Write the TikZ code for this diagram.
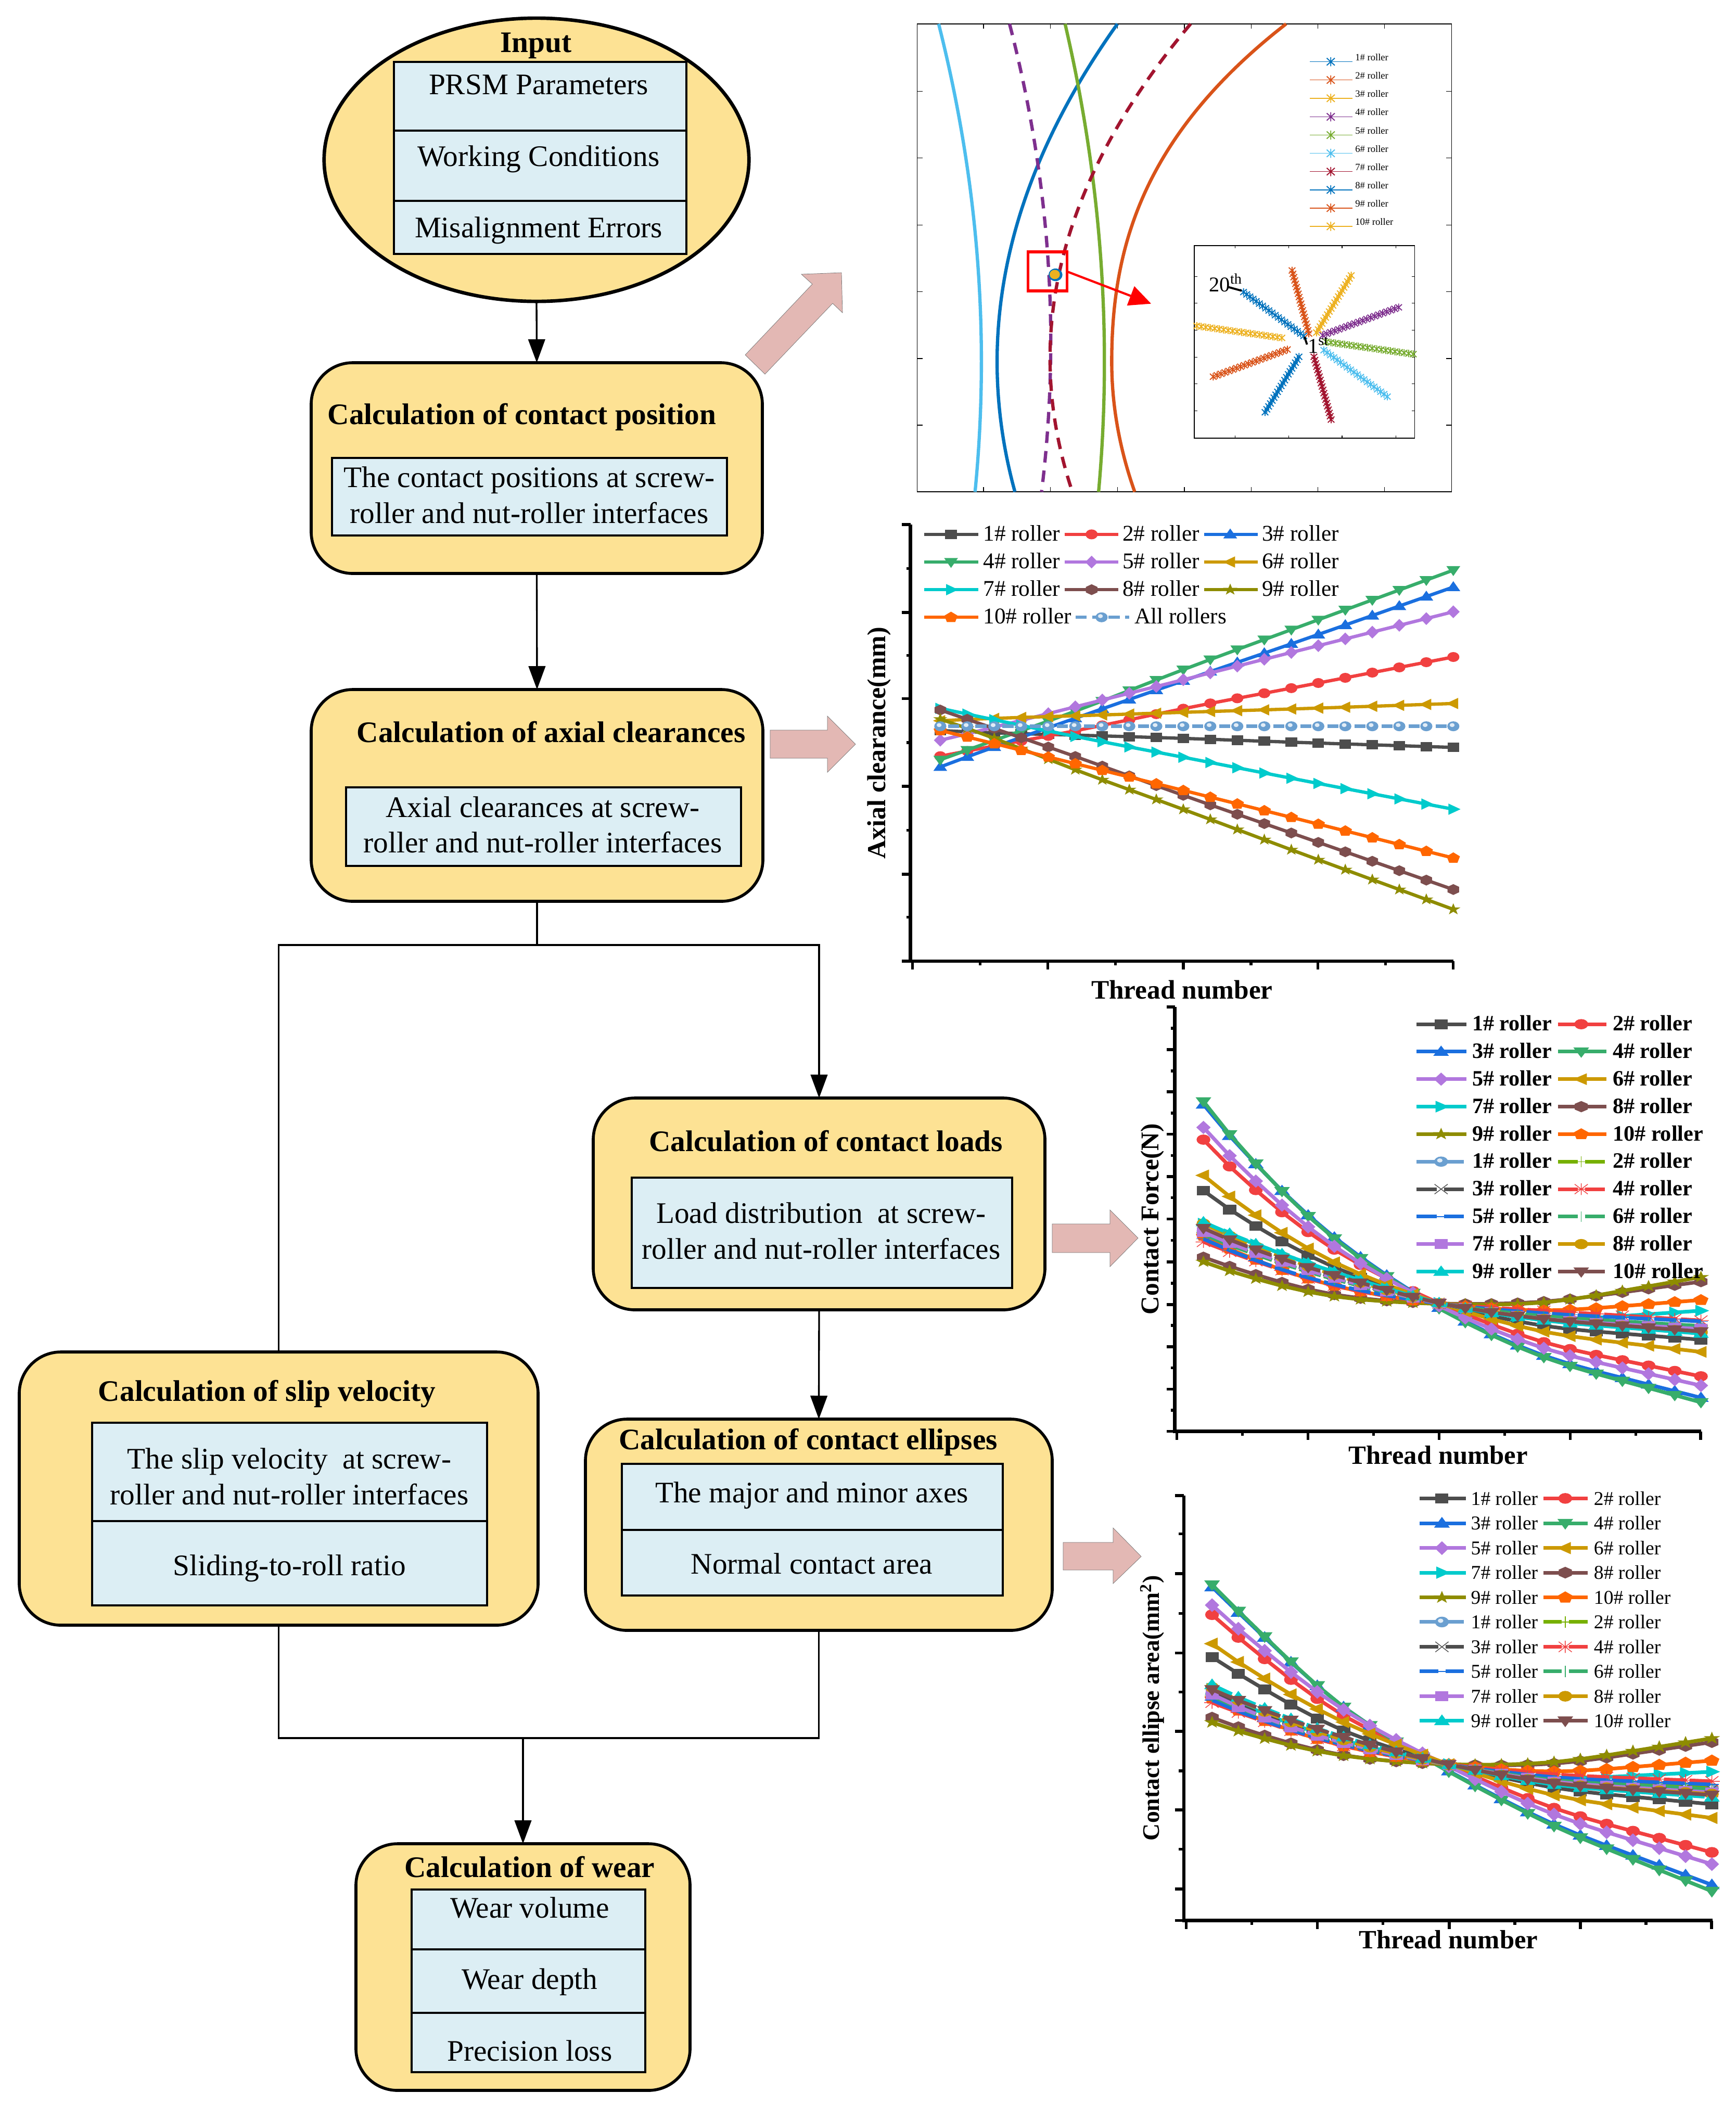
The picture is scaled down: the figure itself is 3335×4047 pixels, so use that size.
\documentclass[tikz,border=0pt]{standalone}
\usepackage{fontspec}
\setmainfont{Liberation Serif}
\usetikzlibrary{arrows.meta,shapes.geometric,calc}
\definecolor{boxfill}{HTML}{FDE294}
\definecolor{cellfill}{HTML}{DCEEF4}
\definecolor{pinkarrow}{HTML}{E3B8B4}
\definecolor{mBlue}{HTML}{0072BD}
\definecolor{mOrange}{HTML}{D95319}
\definecolor{mYellow}{HTML}{EDB120}
\definecolor{mPurple}{HTML}{7E2F8E}
\definecolor{mGreen}{HTML}{77AC30}
\definecolor{mSky}{HTML}{4DBEEE}
\definecolor{mCrimson}{HTML}{A2142F}
\definecolor{oGray}{HTML}{4D4D4D}
\definecolor{oRed}{HTML}{F14040}
\definecolor{oBlue}{HTML}{1A6FDF}
\definecolor{oGreen}{HTML}{37AD6B}
\definecolor{oPurple}{HTML}{B177DE}
\definecolor{oGold}{HTML}{CC9900}
\definecolor{oCyan}{HTML}{00CBCC}
\definecolor{oBrown}{HTML}{7D4E4E}
\definecolor{oOlive}{HTML}{8E8C00}
\definecolor{oOrange}{HTML}{FF6600}
\definecolor{oBall}{HTML}{6A9FD0}
\definecolor{oLime}{HTML}{76B000}
\newcommand\fsA{\fontsize{16.3}{18}\selectfont}
\newcommand\fsT{\fontsize{16.3}{18}\bfseries\selectfont}
\newcount\rkid
\newcommand\rkstep{\global\advance\rkid by 1 }
% box helper
\newcommand\rkbox[6]{%
  \pgfmathsetmacro\rkw{(#5-#3)*0.01}\pgfmathsetmacro\rkh{(#6-#4)*0.01}%
  \pgfmathsetmacro\rkcx{(#5+#3)/2}\pgfmathsetmacro\rkcy{(#6+#4)/2}%
  \node[#2,minimum width=\rkw cm,minimum height=\rkh cm] (#1) at (\rkcx,\rkcy) {};}
% markers (unit size)
\def\mksq{\fill[sc] (-1,-1) rectangle (1,1);}
\def\mkcir{\fill[sc] (0,0) circle[radius=1.05];}
\def\mkup{\fill[sc] (0,-1.25)--(1.2,.85)--(-1.2,.85)--cycle;}
\def\mkdown{\fill[sc] (0,1.25)--(1.2,-.85)--(-1.2,-.85)--cycle;}
\def\mkleft{\fill[sc] (-1.25,0)--(.85,-1.2)--(.85,1.2)--cycle;}
\def\mkright{\fill[sc] (1.25,0)--(-.85,-1.2)--(-.85,1.2)--cycle;}
\def\mkdia{\fill[sc] (0,-1.35)--(1.1,0)--(0,1.35)--(-1.1,0)--cycle;}
\def\mkhex{\fill[sc] (0,-1.15)--(1,-.58)--(1,.58)--(0,1.15)--(-1,.58)--(-1,-.58)--cycle;}
\def\mkpent{\fill[sc] (0,-1.2)--(1.15,-.35)--(.72,1)--(-.72,1)--(-1.15,-.35)--cycle;}
\def\mkstar{\fill[sc] (0,-1.3)--(.3,-.4)--(1.24,-.4)--(.48,.15)--(.76,1.05)--(0,.5)--(-.76,1.05)--(-.48,.15)--(-1.24,-.4)--(-.3,-.4)--cycle;}
\def\mkball{\fill[sc] (0,0) circle[radius=1.05];\fill[white!80!sc] (-.2,-.25) circle[radius=.42];}
\def\mkplus{\draw[sc,line width=.4pt] (-1.1,0)--(1.1,0) (0,-1.1)--(0,1.1);}
\def\mkcross{\draw[oGray,line width=.4pt] (-1,-1)--(1,1) (-1,1)--(1,-1);}
\def\mkast{\draw[sc,line width=.4pt] (-1,-1)--(1,1) (-1,1)--(1,-1) (-1.2,0)--(1.2,0) (0,-1.2)--(0,1.2);}
\def\mkdash{\draw[sc,line width=.4pt] (-1.1,0)--(1.1,0);}
\def\mkbar{\draw[sc,line width=.4pt] (0,-1.1)--(0,1.1);}
\def\rkmark#1#2{\begin{scope}[shift={(#1,#2)},scale=\mr]\csname mk\rkmk\endcsname\end{scope}}
% series: values at threads 1,3,6,10,14,20, interpolated and smoothed
\def\rkknots#1,#2,#3,#4,#5,#6\relax{\def\va{#1}\def\vb{#2}\def\vc{#3}\def\vd{#4}\def\ve{#5}\def\vf{#6}}
\newcommand\rklin[2]{%
  \ifnum#1<4 \pgfmathsetmacro#2{\va+(\vb-\va)*(#1-1)/2}\else
  \ifnum#1<7 \pgfmathsetmacro#2{\vb+(\vc-\vb)*(#1-3)/3}\else
  \ifnum#1<11 \pgfmathsetmacro#2{\vc+(\vd-\vc)*(#1-6)/4}\else
  \ifnum#1<15 \pgfmathsetmacro#2{\vd+(\ve-\vd)*(#1-10)/4}\else
  \pgfmathsetmacro#2{\ve+(\vf-\ve)*(#1-14)/6}\fi\fi\fi\fi}
\newcommand\rkyat[1]{%
  \ifnum#1=1 \rklin{1}{\yv}\else\ifnum#1=20 \rklin{20}{\yv}\else
    \edef\kA{\the\numexpr#1-1\relax}\edef\kB{\the\numexpr#1+1\relax}%
    \rklin{\kA}{\yA}\rklin{#1}{\yB}\rklin{\kB}{\yC}%
    \ifnum#1=2 \pgfmathsetmacro\yv{(\yA+2*\yB+\yC)/4}\else
    \ifnum#1=19 \pgfmathsetmacro\yv{(\yA+2*\yB+\yC)/4}\else
      \edef\kZ{\the\numexpr#1-2\relax}\edef\kD{\the\numexpr#1+2\relax}%
      \rklin{\kZ}{\yZ}\rklin{\kD}{\yD}%
      \pgfmathsetmacro\yv{(\yZ+2*\yA+3*\yB+2*\yC+\yD)/9}%
    \fi\fi
  \fi\fi}
\newcommand\rkseries[4]{%
  \colorlet{sc}{#1}\def\rkmk{#2}\rkknots#4\relax
  \gdef\rkpath{}%
  \foreach \k in {1,...,20}{%
    \rkyat{\k}\pgfmathsetmacro\xv{\chx+(\k-1)*\chd}%
    \ifnum\k=1 \xdef\rkpath{(\xv,\yv)}\else \xdef\rkpath{\rkpath -- (\xv,\yv)}\fi}%
  \edef\rktmp{\noexpand\draw[sc,line width=\chlw,line join=round,#3] \rkpath;}\rktmp
  \foreach \k in {1,...,20}{%
    \rkyat{\k}\pgfmathsetmacro\xv{\chx+(\k-1)*\chd}%
    \rkmark{\xv}{\yv}}}
\newcommand\rkleg[9]{%
  \colorlet{sc}{#1}\def\rkmk{#2}%
  \draw[sc,line width=\chlw,#3] (#4,#7)--(#5,#7);
  \rkmark{#6}{#7}%
  \rkstep
  \node[anchor=west,inner sep=0pt,text height=.92em,text depth=.2em] (n\the\rkid) at (#8,#7) {\rklf #9};}
% asterisk for matlab plot
\def\mkmat{\draw[sc,line width=.55pt] (-1,-1)--(1,1) (-1,1)--(1,-1) (0,-1.25)--(0,1.25);}
\newcommand\rkray[5]{%
  \colorlet{sc}{#1}%
  \foreach \t in {0,...,19}{%
    \pgfmathsetmacro\xv{#2+(#4-#2)*\t/19}\pgfmathsetmacro\yv{#3+(#5-#3)*\t/19}%
    \begin{scope}[shift={(\xv,\yv)},scale=9]\mkmat\end{scope}}}
\tikzset{
  bigbox/.style={draw=black,line width=1.6pt,fill=boxfill,rounded corners=0.8cm,inner sep=0pt,outer sep=0pt},
  cellbox/.style={draw=black,line width=1.35pt,fill=cellfill,inner sep=0pt,outer sep=0pt},
  txt/.style={inner sep=0pt,text height=1.14em,text depth=.2em,align=center},
  conn/.style={draw=black,line width=.95pt},
  arr/.style={conn,-{Triangle[length=12.8pt,width=9.2pt]}},
  pinkbig/.style={fill=pinkarrow,draw=black!55,line width=.2pt},
  axisln/.style={line width=1.8pt,black},
  ticklt/.style={line width=1.6pt,black},
  gdsh/.style={dash pattern=on 12pt off 2pt},
  glegA/.style={dash pattern=on 11pt off 4pt},
  glegB/.style={dash pattern=on 10pt off 4pt},
  curve/.style={line width=1.8pt},
  dcurve/.style={line width=1.8pt,dash pattern=on 6.3pt off 4.4pt},
}
\begin{document}
\begin{tikzpicture}[x=0.01cm,y=-0.01cm]
\useasboundingbox (0,0) rectangle (3335,4047);
\fill[white] (0,0) rectangle (3335,4047);

%%% FLOW CHART
\node[ellipse,draw=black,line width=1.9pt,fill=boxfill,minimum width=8.16cm,minimum height=5.44cm,inner sep=0pt,outer sep=0pt] (input) at (1031,307) {};
\rkbox{inA}{cellbox}{757}{119}{1319}{251}
\rkbox{inB}{cellbox}{757}{251}{1319}{386}
\rkbox{inC}{cellbox}{757}{386}{1319}{488}
\node[txt,font=\fsT] (inT) at (1030,84) {Input};
\node[txt,font=\fsA] (inAt) at (1035,165) {PRSM Parameters};
\node[txt,font=\fsA] (inBt) at (1035,303) {Working Conditions};
\node[txt,font=\fsA] (inCt) at (1035,440) {Misalignment Errors};

\rkbox{pos}{bigbox}{598}{697}{1465}{1102}
\rkbox{posC}{cellbox}{638}{880}{1397}{1029}
\node[txt,font=\fsT] (posT) at (1003,799) {Calculation of contact position};
\node[txt,font=\fsA] (posA) at (1017,920) {The contact positions at screw-};
\node[txt,font=\fsA] (posB) at (1017,989) {roller and nut-roller interfaces};

\rkbox{cle}{bigbox}{598}{1325}{1466}{1732}
\rkbox{cleC}{cellbox}{665}{1513}{1424}{1664}
\node[txt,font=\fsT] (cleT) at (1059,1410) {Calculation of axial clearances};
\node[txt,font=\fsA] (cleA) at (1043,1554) {Axial clearances at screw-};
\node[txt,font=\fsA] (cleB) at (1043,1622) {roller and nut-roller interfaces};

\rkbox{load}{bigbox}{1140}{2110}{2008}{2517}
\rkbox{loadC}{cellbox}{1214}{2263}{1945}{2475}
\node[txt,font=\fsT] (loadT) at (1587,2196) {Calculation of contact loads};
\node[txt,font=\fsA] (loadA) at (1578,2334) {Load distribution\ \ at screw-};
\node[txt,font=\fsA] (loadB) at (1578,2403) {roller and nut-roller interfaces};

\rkbox{slip}{bigbox}{37}{2598}{1034}{3123}
\rkbox{slipA}{cellbox}{177}{2734}{936}{2923}
\rkbox{slipB}{cellbox}{177}{2923}{936}{3085}
\node[txt,font=\fsT] (slipT) at (513,2676) {Calculation of slip velocity};
\node[txt,font=\fsA] (slipAa) at (556,2806) {The slip velocity\ \ at screw-};
\node[txt,font=\fsA] (slipAb) at (556,2875) {roller and nut-roller interfaces};
\node[txt,font=\fsA] (slipBa) at (556,3011) {Sliding-to-roll ratio};

\rkbox{ell}{bigbox}{1125}{2727}{2022}{3133}
\rkbox{ellA}{cellbox}{1195}{2813}{1927}{2940}
\rkbox{ellB}{cellbox}{1195}{2940}{1927}{3066}
\node[txt,font=\fsT] (ellT) at (1553,2769) {Calculation of contact ellipses};
\node[txt,font=\fsA] (ellAa) at (1560,2871) {The major and minor axes};
\node[txt,font=\fsA] (ellBa) at (1560,3008) {Normal contact area};

\rkbox{wear}{bigbox}{684}{3543}{1326}{4017}
\rkbox{wearA}{cellbox}{791}{3631}{1240}{3746}
\rkbox{wearB}{cellbox}{791}{3746}{1240}{3868}
\rkbox{wearC}{cellbox}{791}{3868}{1240}{3982}
\node[txt,font=\fsT] (wearT) at (1018,3591) {Calculation of wear};
\node[txt,font=\fsA] (wearAa) at (1018,3669) {Wear volume};
\node[txt,font=\fsA] (wearBa) at (1018,3806) {Wear depth};
\node[txt,font=\fsA] (wearCa) at (1018,3944) {Precision loss};

% connectors
\draw[arr] (input.south) -- (pos.north);
\draw[arr] (pos.south) -- (cle.north);
\coordinate (split) at (cle.south |- 0,1816);
\draw[conn] (cle.south) -- (split);
\draw[conn] (slip.north) |- (split);
\draw[arr] (split) -| (load.north);
\draw[arr] (load.south) -- (ell.north);
\coordinate (merge) at (wear.north |- 0,3340);
\draw[conn] (slip.south) |- (merge);
\draw[conn] (ell.south) |- (merge);
\draw[arr] (merge) -- (wear.north);

% pink arrows
\path[pinkbig] (1432,682)--(1470,719)--(1600,583)--(1619,601)--(1617,524)--(1540,527)--(1561,546)--cycle;
\path[pinkbig] (1480,1403)--(1590,1403)--(1590,1376)--(1644,1430)--(1590,1484)--(1590,1457)--(1480,1457)--cycle;
\path[pinkbig] (2022,2352)--(2133,2352)--(2133,2325)--(2187,2379)--(2133,2434)--(2133,2407)--(2022,2407)--cycle;
\path[pinkbig] (2043,2964)--(2139,2964)--(2139,2936)--(2193,2991)--(2139,3043)--(2139,3017)--(2043,3017)--cycle;

%%% TOP RIGHT PLOT
\begin{scope}[shift={(1700,0)},xscale=0.7015,yscale=0.6378]
\draw[line width=.45pt,black] (89,72) rectangle (1553,1482);
\foreach \v in {271,454,638,821,1004,1187,1369}{\draw[line width=.4pt] (\v,72)--(\v,86) (\v,1482)--(\v,1468);}
\foreach \v in {275,476,678,879,1080,1281}{\draw[line width=.4pt] (89,\v)--(104,\v) (1553,\v)--(1538,\v);}
\draw[mSky,curve] plot[domain=72:1482,samples=50,smooth] ({265-113*((\x-1090)/1000)*((\x-1090)/1000)},\x);
\draw[mBlue,curve] plot[domain=72:1482,samples=50,smooth] ({308+318*((\x-1090)/1000)*((\x-1090)/1000)},\x);
\draw[mPurple,dcurve] plot[domain=72:1482,samples=50,smooth] ({455-123*((\x-1030)/1000)*((\x-1030)/1000)},\x);
\draw[mGreen,curve] plot[domain=72:1482,samples=50,smooth] ({602-104*((\x-1090)/1000)*((\x-1090)/1000)},\x);
\draw[mCrimson,dcurve] plot[domain=72:1482,samples=50,smooth] ({453+379*((\x-1080)/1000)*((\x-1080)/1000)},\x);
\draw[mOrange,curve] plot[domain=72:1482,samples=50,smooth] ({622+(\x<1090)*(238+219*((1090-\x)/1000))*((\x-1090)/1000)*((\x-1090)/1000)+(\x>=1090)*410*((\x-1090)/1000)*((\x-1090)/1000)},\x);
% blob
\fill[mBlue] (468,828) circle[radius=19];
\fill[mYellow] (466,827) circle[radius=14];
% red window and arrow
\node[draw=red,line width=1.6pt,minimum width=.75cm,minimum height=.75cm,inner sep=0pt,outer sep=0pt] (redbox) at (446,818) {};
\coordinate (redtip) at (730,915);
\draw[red,line width=1.2pt,-{Triangle[length=12pt,width=11pt]}] (redbox.east) -- (redtip);
% legend
\def\rkmatleg#1#2#3{%
  \colorlet{sc}{#1}%
  \draw[sc,line width=.4pt] (1165,#2)--(1281,#2);
  \begin{scope}[shift={(1222,#2)},scale=11]\mkmat\end{scope}
  \pgfmathsetmacro\yt{#2-14}%
  \rkstep
  \node[anchor=west,inner sep=0pt,font=\fontsize{5.3}{6}\selectfont] (n\the\rkid) at (1288,\yt) {#3};}
\rkmatleg{mBlue}{186}{1\# roller}
\rkmatleg{mOrange}{241}{2\# roller}
\rkmatleg{mYellow}{296}{3\# roller}
\rkmatleg{mPurple}{352}{4\# roller}
\rkmatleg{mGreen}{407}{5\# roller}
\rkmatleg{mSky}{462}{6\# roller}
\rkmatleg{mCrimson}{517}{7\# roller}
\rkmatleg{mBlue}{572}{8\# roller}
\rkmatleg{mOrange}{627}{9\# roller}
\rkmatleg{mYellow}{682}{10\# roller}
% inset
\draw[line width=.4pt,black,fill=white] (848,740) rectangle (1452,1320);
\foreach \v in {960,1107,1253,1400}{\draw[line width=.3pt] (\v,740)--(\v,748) (\v,1320)--(\v,1312);}
\foreach \v in {834,914,995,1076,1156,1238}{\draw[line width=.3pt] (848,\v)--(856,\v) (1452,\v)--(1444,\v);}
\rkray{mBlue}{1148}{1012}{983}{880}
\rkray{mOrange}{1162}{1005}{1116}{815}
\rkray{mYellow}{1183}{1002}{1278}{830}
\rkray{mPurple}{1200}{1010}{1408}{926}
\rkray{mGreen}{1210}{1030}{1448}{1067}
\rkray{mSky}{1203}{1055}{1377}{1195}
\rkray{mCrimson}{1176}{1075}{1223}{1264}
\rkray{mBlue}{1135}{1075}{1042}{1242}
\rkray{mOrange}{1103}{1053}{900}{1135}
\rkray{mYellow}{1088}{1018}{855}{982}
\draw[black,line width=1.1pt] (942,865)--(978,876) (1150,1015)--(1157,1038);
\node[anchor=west,inner sep=0pt,font=\fontsize{11.5}{12}\selectfont] (lab20) at (888,852) {20\textsuperscript{th}};
\node[anchor=west,inner sep=0pt,font=\fontsize{11.5}{12}\selectfont] (lab1) at (1158,1040) {1\textsuperscript{st}};
\end{scope}

%%% AXIAL CLEARANCE PLOT
\begin{scope}[shift={(1650,980)},xscale=0.7653,yscale=0.625]
\def\chx{205}\def\chd{67.8}\def\chlw{1.8pt}\def\mr{14.5}
\foreach \v in {45,315,580,850,1120,1387}{\draw[ticklt] (108,\v)--(130,\v);}
\foreach \v in {180,447,715,985,1252}{\draw[ticklt] (120,\v)--(130,\v);}
\foreach \v in {135,475,815,1153,1493}{\draw[ticklt] (\v,1387)--(\v,1413);}
\foreach \v in {305,645,985,1323}{\draw[ticklt] (\v,1387)--(\v,1400);}
\draw[axisln] (130,45)--(130,1387)--(1493,1387);
\rkseries{oGray}{sq}{solid}{678,686,692,702,714,730}
\rkseries{oRed}{cir}{solid}{757,725,680,610,548,452}
\rkseries{oBlue}{up}{solid}{790,728,640,525,412,237}
\rkseries{oGreen}{down}{solid}{768,708,620,490,368,185}
\rkseries{oPurple}{dia}{solid}{708,668,605,522,438,313}
\rkseries{oGold}{left}{solid}{648,640,633,622,612,595}
\rkseries{oCyan}{right}{solid}{610,645,697,760,825,920}
\rkseries{oBrown}{hex}{solid}{615,672,757,878,993,1167}
\rkseries{oOlive}{star}{solid}{643,700,800,920,1045,1228}
\rkseries{oOrange}{pent}{solid}{678,718,780,862,945,1070}
\rkseries{oBall}{ball}{dash pattern=on 6pt off 8.8pt,dash phase=10.4pt}{665,665,665,665,665,665}
\def\rklf{\fontsize{12.3}{14}\selectfont}
\rkleg{oGray}{sq}{solid}{165}{300}{232}{75}{312}{1\# roller}
\rkleg{oRed}{cir}{solid}{517}{652}{585}{75}{662}{2\# roller}
\rkleg{oBlue}{up}{solid}{868}{1002}{933}{75}{1012}{3\# roller}
\rkleg{oGreen}{down}{solid}{165}{300}{232}{160}{312}{4\# roller}
\rkleg{oPurple}{dia}{solid}{517}{652}{585}{160}{662}{5\# roller}
\rkleg{oGold}{left}{solid}{868}{1002}{933}{160}{1012}{6\# roller}
\rkleg{oCyan}{right}{solid}{165}{300}{232}{245}{312}{7\# roller}
\rkleg{oBrown}{hex}{solid}{517}{652}{585}{245}{662}{8\# roller}
\rkleg{oOlive}{star}{solid}{868}{1002}{933}{245}{1012}{9\# roller}
\rkleg{oOrange}{pent}{solid}{165}{300}{232}{330}{312}{10\# roller}
\rkleg{oBall}{ball}{dash pattern=on 6pt off 3pt}{545}{680}{610}{330}{692}{All rollers}
\node[inner sep=0pt,rotate=90,font=\fontsize{14.2}{16}\bfseries\selectfont] (ylabA) at (52,716) {Axial clearance(mm)};
\node[inner sep=0pt,font=\fontsize{14.6}{16}\bfseries\selectfont] (xlabA) at (812,1475) {Thread number};
\end{scope}

%%% CONTACT FORCE PLOT
\begin{scope}[shift={(2100,1920)},xscale=0.7874,yscale=0.5869]
\def\chx{270}\def\chd{63.9}\def\chlw{2pt}\def\mr{16}
\foreach \v in {25,165,303,442,581,720,860,1000,1138,1277,1415}{\draw[ticklt] (180,\v)--(200,\v);}
\foreach \v in {95,235,373,512,650,790,930,1068,1207,1346}{\draw[ticklt] (190,\v)--(200,\v);}
\foreach \v in {205,525,845,1165,1483}{\draw[ticklt] (\v,1415)--(\v,1443);}
\foreach \v in {365,685,1005,1325}{\draw[ticklt] (\v,1415)--(\v,1429);}
\draw[axisln] (200,25)--(200,1415)--(1485,1415);
\rkseries{oGray}{sq}{solid}{627,750,885,1000,1075,1115}
\rkseries{oRed}{cir}{solid}{460,635,830,1000,1130,1235}
\rkseries{oBlue}{up}{solid}{345,550,790,1018,1175,1305}
\rkseries{oGreen}{down}{solid}{335,550,795,1020,1180,1320}
\rkseries{oPurple}{dia}{solid}{420,605,820,1010,1150,1265}
\rkseries{oGold}{left}{solid}{577,715,870,1000,1095,1155}
\rkseries{oCyan}{right}{solid}{735,805,895,1000,1055,1020}
\rkseries{oBrown}{hex}{solid}{845,905,975,1000,995,925}
\rkseries{oOlive}{star}{solid}{860,920,980,1000,1000,910}
\rkseries{oOrange}{pent}{solid}{775,860,945,1000,1025,985}
\rkseries{oBall}{ball}{gdsh}{760,835,915,1000,1050,1075}
\rkseries{oLime}{plus}{gdsh}{765,840,920,1000,1045,1070}
\rkseries{oGray}{cross}{gdsh}{755,830,915,1000,1055,1080}
\rkseries{oRed}{ast}{gdsh}{795,860,945,1000,1020,1052}
\rkseries{oBlue}{dash}{gdsh}{785,860,940,1000,1030,1055}
\rkseries{oGreen}{bar}{gdsh}{770,840,920,1000,1040,1070}
\rkseries{oPurple}{sq}{gdsh}{762,835,915,1000,1050,1080}
\rkseries{oGold}{cir}{gdsh}{735,815,905,1000,1050,1090}
\rkseries{oCyan}{up}{gdsh}{730,805,895,1000,1055,1095}
\rkseries{oBrown}{down}{gdsh}{750,825,905,1000,1050,1088}
\def\rklf{\fontsize{12}{14}\bfseries\selectfont}
\rkleg{oGray}{sq}{solid}{790}{912}{850}{82}{925}{1\# roller}
\rkleg{oRed}{cir}{solid}{1135}{1253}{1192}{82}{1268}{2\# roller}
\rkleg{oBlue}{up}{solid}{790}{912}{850}{172}{925}{3\# roller}
\rkleg{oGreen}{down}{solid}{1135}{1253}{1192}{172}{1268}{4\# roller}
\rkleg{oPurple}{dia}{solid}{790}{912}{850}{262}{925}{5\# roller}
\rkleg{oGold}{left}{solid}{1135}{1253}{1192}{262}{1268}{6\# roller}
\rkleg{oCyan}{right}{solid}{790}{912}{850}{352}{925}{7\# roller}
\rkleg{oBrown}{hex}{solid}{1135}{1253}{1192}{352}{1268}{8\# roller}
\rkleg{oOlive}{star}{solid}{790}{912}{850}{442}{925}{9\# roller}
\rkleg{oOrange}{pent}{solid}{1135}{1253}{1192}{442}{1268}{10\# roller}
\rkleg{oBall}{ball}{glegA}{790}{905}{850}{532}{925}{1\# roller}
\rkleg{oLime}{plus}{glegA}{1135}{1250}{1192}{532}{1268}{2\# roller}
\rkleg{oGray}{cross}{glegA}{790}{905}{850}{622}{925}{3\# roller}
\rkleg{oRed}{ast}{glegA}{1135}{1250}{1192}{622}{1268}{4\# roller}
\rkleg{oBlue}{dash}{glegA}{790}{905}{850}{712}{925}{5\# roller}
\rkleg{oGreen}{bar}{glegA}{1135}{1250}{1192}{712}{1268}{6\# roller}
\rkleg{oPurple}{sq}{glegA}{790}{905}{850}{802}{925}{7\# roller}
\rkleg{oGold}{cir}{glegA}{1135}{1250}{1192}{802}{1268}{8\# roller}
\rkleg{oCyan}{up}{glegA}{790}{905}{850}{892}{925}{9\# roller}
\rkleg{oBrown}{down}{glegA}{1135}{1250}{1192}{892}{1268}{10\# roller}
\node[inner sep=0pt,rotate=90,font=\fontsize{14}{16}\bfseries\selectfont] (ylabB) at (145,720) {Contact Force(N)};
\node[inner sep=0pt,font=\fontsize{14.4}{16}\bfseries\selectfont] (xlabB) at (843,1493) {Thread number};
\end{scope}

%%% CONTACT ELLIPSE PLOT
\begin{scope}[shift={(2100,2820)},xscale=0.7874,yscale=0.6122]
\def\chx{291}\def\chd{64.2}\def\chlw{2pt}\def\mr{16}
\foreach \v in {88,333,582,828,1075,1323,1422}{\draw[ticklt] (200,\v)--(222,\v);}
\foreach \v in {208,458,705,952,1198}{\draw[ticklt] (210,\v)--(222,\v);}
\foreach \v in {228,548,870,1190,1510}{\draw[ticklt] (\v,1422)--(\v,1448);}
\foreach \v in {388,708,1030,1350}{\draw[ticklt] (\v,1422)--(\v,1435);}
\draw[axisln] (222,88)--(222,1422)--(1512,1422);
\rkseries{oGray}{sq}{solid}{595,700,835,935,1010,1057}
\rkseries{oRed}{cir}{solid}{462,605,790,935,1075,1208}
\rkseries{oBlue}{up}{solid}{375,535,765,955,1125,1310}
\rkseries{oGreen}{down}{solid}{368,533,765,957,1130,1330}
\rkseries{oPurple}{dia}{solid}{432,580,770,940,1095,1245}
\rkseries{oGold}{left}{solid}{553,668,805,935,1035,1100}
\rkseries{oCyan}{right}{solid}{695,780,860,935,980,955}
\rkseries{oBrown}{hex}{solid}{785,845,910,935,935,862}
\rkseries{oOlive}{star}{solid}{800,855,910,935,930,850}
\rkseries{oOrange}{pent}{solid}{725,800,880,935,960,920}
\rkseries{oBall}{ball}{gdsh}{710,790,868,935,990,1008}
\rkseries{oLime}{plus}{gdsh}{715,790,870,935,985,1005}
\rkseries{oGray}{cross}{gdsh}{705,785,865,935,990,1010}
\rkseries{oRed}{ast}{gdsh}{738,800,880,935,965,985}
\rkseries{oBlue}{dash}{gdsh}{730,800,875,935,975,995}
\rkseries{oGreen}{bar}{gdsh}{718,790,870,935,985,1010}
\rkseries{oPurple}{sq}{gdsh}{712,790,868,935,990,1020}
\rkseries{oGold}{cir}{gdsh}{690,770,860,935,995,1025}
\rkseries{oCyan}{up}{gdsh}{682,760,850,935,1000,1035}
\rkseries{oBrown}{down}{gdsh}{697,765,850,935,995,1028}
\def\rklf{\fontsize{10.7}{12}\selectfont}
\rkleg{oGray}{sq}{solid}{798}{910}{852}{97}{922}{1\# roller}
\rkleg{oRed}{cir}{solid}{1100}{1208}{1153}{97}{1222}{2\# roller}
\rkleg{oBlue}{up}{solid}{798}{910}{852}{175}{922}{3\# roller}
\rkleg{oGreen}{down}{solid}{1100}{1208}{1153}{175}{1222}{4\# roller}
\rkleg{oPurple}{dia}{solid}{798}{910}{852}{253}{922}{5\# roller}
\rkleg{oGold}{left}{solid}{1100}{1208}{1153}{253}{1222}{6\# roller}
\rkleg{oCyan}{right}{solid}{798}{910}{852}{330}{922}{7\# roller}
\rkleg{oBrown}{hex}{solid}{1100}{1208}{1153}{330}{1222}{8\# roller}
\rkleg{oOlive}{star}{solid}{798}{910}{852}{408}{922}{9\# roller}
\rkleg{oOrange}{pent}{solid}{1100}{1208}{1153}{408}{1222}{10\# roller}
\rkleg{oBall}{ball}{glegB}{798}{908}{852}{485}{922}{1\# roller}
\rkleg{oLime}{plus}{glegB}{1100}{1208}{1153}{485}{1222}{2\# roller}
\rkleg{oGray}{cross}{glegB}{798}{908}{852}{563}{922}{3\# roller}
\rkleg{oRed}{ast}{glegB}{1100}{1208}{1153}{563}{1222}{4\# roller}
\rkleg{oBlue}{dash}{glegB}{798}{908}{852}{640}{922}{5\# roller}
\rkleg{oGreen}{bar}{glegB}{1100}{1208}{1153}{640}{1222}{6\# roller}
\rkleg{oPurple}{sq}{glegB}{798}{908}{852}{718}{922}{7\# roller}
\rkleg{oGold}{cir}{glegB}{1100}{1208}{1153}{718}{1222}{8\# roller}
\rkleg{oCyan}{up}{glegB}{798}{908}{852}{795}{922}{9\# roller}
\rkleg{oBrown}{down}{glegB}{1100}{1208}{1153}{795}{1222}{10\# roller}
\node[inner sep=0pt,rotate=90,font=\fontsize{13}{15}\bfseries\selectfont] (ylabC) at (145,755) {Contact ellipse area(mm\textsuperscript{2})};
\node[inner sep=0pt,font=\fontsize{14.4}{16}\bfseries\selectfont] (xlabC) at (868,1482) {Thread number};
\end{scope}
\end{tikzpicture}
\end{document}
